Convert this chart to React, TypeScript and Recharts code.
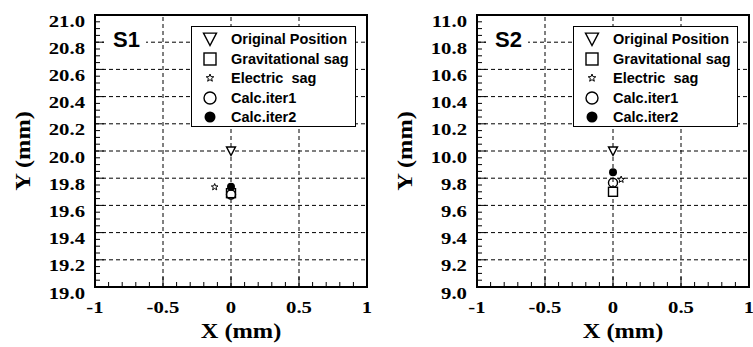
import React from "react";
import { ScatterChart, Scatter, XAxis, YAxis, ReferenceLine, ReferenceArea } from "recharts";

// legend / series order
const SERIES_NAMES = ["Original Position", "Gravitational sag", "Electric  sag", "Calc.iter1", "Calc.iter2"];

// S1 points (mm)
const S1_X = [0, 0, -0.12, 0, 0];
const S1_Y = [20.0, 19.69, 19.735, 19.68, 19.738];

// S2 points (mm)
const S2_X = [0, 0, 0.06, 0, 0];
const S2_Y = [10.0, 9.7, 9.79, 9.767, 9.843];

const X_MAJOR = [-1, -0.5, 0, 0.5, 1];
const X_LABELS = ["-1", "-0.5", "0", "0.5", "1"];

const S1_Y_MAJOR = [19.0, 19.2, 19.4, 19.6, 19.8, 20.0, 20.2, 20.4, 20.6, 20.8, 21.0];
const S1_Y_LABELS = ["19.0", "19.2", "19.4", "19.6", "19.8", "20.0", "20.2", "20.4", "20.6", "20.8", "21.0"];
const S2_Y_MAJOR = [9.0, 9.2, 9.4, 9.6, 9.8, 10.0, 10.2, 10.4, 10.6, 10.8, 11.0];
const S2_Y_LABELS = ["9.0", "9.2", "9.4", "9.6", "9.8", "10.0", "10.2", "10.4", "10.6", "10.8", "11.0"];

const SERIF = '"Liberation Serif", "Times New Roman", serif';
const SANS = '"Liberation Sans", Arial, sans-serif';

const CHART_H = 347;
const PLOT_TOP = 15;
const PLOT_W = 272;
const X_AXIS_H = 60;
const PLOT_BOTTOM = CHART_H - X_AXIS_H;

// minor ticks between the majors
const subdivide = (major: number[], n: number) => {
  const out: number[] = [];
  for (let i = 0; i < major.length - 1; i++) {
    for (let k = 0; k < n; k++) {
      out.push(+(major[i] + ((major[i + 1] - major[i]) * k) / n).toFixed(4));
    }
  }
  out.push(major[major.length - 1]);
  return out;
};

const majorIndex = (major: number[], v: number) => major.findIndex((m) => Math.abs(m - v) < 1e-6);

// ---- markers ----
const TriangleDown = ({ cx, cy, s = 9 }: any) => (
  <polygon
    points={`${cx - s / 2},${cy - s * 0.45} ${cx + s / 2},${cy - s * 0.45} ${cx},${cy + s * 0.5}`}
    fill="#fff"
    stroke="#000"
    strokeWidth={1.4}
  />
);
const SquareMark = ({ cx, cy, s = 9 }: any) => (
  <rect x={cx - s / 2} y={cy - s / 2} width={s} height={s} fill="#fff" stroke="#000" strokeWidth={1.4} />
);
const StarMark = ({ cx, cy, s = 7 }: any) => {
  const R = s / 2;
  const r = R * 0.42;
  const pts: string[] = [];
  for (let i = 0; i < 10; i++) {
    const a = -Math.PI / 2 + (i * Math.PI) / 5;
    const rad = i % 2 === 0 ? R : r;
    pts.push(`${cx + rad * Math.cos(a)},${cy + rad * Math.sin(a)}`);
  }
  return <polygon points={pts.join(" ")} fill="#fff" stroke="#000" strokeWidth={1} />;
};
const OpenCircle = ({ cx, cy, s = 9 }: any) => (
  <circle cx={cx} cy={cy} r={s / 2} fill="none" stroke="#000" strokeWidth={1.4} />
);
const FullCircle = ({ cx, cy, s = 8 }: any) => <circle cx={cx} cy={cy} r={s / 2} fill="#000" />;

const MARKERS = [TriangleDown, SquareMark, StarMark, OpenCircle, FullCircle];
const LEGEND_SIZES = [13, 12, 8, 12, 11];

const Legend = ({ left }: { left: number }) => (
  <div
    style={{
      position: "absolute",
      left,
      top: 26,
      width: 165,
      height: 101,
      boxSizing: "border-box",
      background: "#fff",
      border: "1px solid #000",
    }}
  >
    {SERIES_NAMES.map((name, i) => {
      const Mark = MARKERS[i];
      return (
        <div
          key={name}
          style={{ position: "absolute", left: 0, top: 12.3 + i * 19.5 - 9, height: 18, width: 165, display: "flex", alignItems: "center" }}
        >
          <svg width={36} height={18} style={{ flex: "none" }}>
            <Mark cx={18} cy={9} s={LEGEND_SIZES[i]} />
          </svg>
          <span
            style={{
              marginLeft: 3,
              fontFamily: SANS,
              fontWeight: "bold",
              fontSize: 14.5,
              whiteSpace: "pre",
              lineHeight: "18px",
            }}
          >
            {name}
          </span>
        </div>
      );
    })}
  </div>
);

type PanelProps = {
  tag: string;
  xs: number[];
  ys: number[];
  yMajor: number[];
  yLabels: string[];
  chartW: number;
  yAxisW: number;
};

const Panel = ({ tag, xs, ys, yMajor, yLabels, chartW, yAxisW }: PanelProps) => {
  const plotLeft = yAxisW;
  const yMin = yMajor[0];
  const yMax = yMajor[yMajor.length - 1];
  const xTicks = subdivide(X_MAJOR, 5);
  const yTicks = subdivide(yMajor, 4);

  const renderXTick = (p: any) => {
    const v = p.payload.value;
    const mi = majorIndex(X_MAJOR, v);
    const len = mi >= 0 ? 10 : 5;
    return (
      <g>
        <line x1={p.x} x2={p.x} y1={PLOT_BOTTOM} y2={PLOT_BOTTOM - len} stroke="#000" strokeWidth={1} />
        {mi >= 0 && (
          <text
            transform={`translate(${p.x},${PLOT_BOTTOM + 26}) scale(1.22,1)`}
            textAnchor="middle"
            fontFamily={SERIF}
            fontWeight="bold"
            fontSize={17}
            fill="#000"
          >
            {X_LABELS[mi]}
          </text>
        )}
      </g>
    );
  };

  const renderYTick = (p: any) => {
    const v = p.payload.value;
    const mi = majorIndex(yMajor, v);
    const len = mi >= 0 ? 9 : 5;
    return (
      <g>
        <line x1={plotLeft} x2={plotLeft + len} y1={p.y} y2={p.y} stroke="#000" strokeWidth={1} />
        {mi >= 0 && (
          <text
            transform={`translate(${plotLeft - 10},${p.y + 11.5}) scale(1.22,1)`}
            textAnchor="end"
            fontFamily={SERIF}
            fontWeight="bold"
            fontSize={17}
            fill="#000"
          >
            {yLabels[mi]}
          </text>
        )}
      </g>
    );
  };

  const xTitle = (p: any) => {
    const vb = p.viewBox;
    return (
      <text
        transform={`translate(${vb.x + vb.width / 2 + 10},${vb.y + 51}) scale(1.22,1)`}
        textAnchor="middle"
        fontFamily={SERIF}
        fontWeight="bold"
        fontSize={20}
        fill="#000"
      >
        X (mm)
      </text>
    );
  };

  const yTitle = (p: any) => {
    const vb = p.viewBox;
    return (
      <text
        transform={`translate(${vb.x + vb.width - 65},${vb.y + vb.height / 2}) rotate(-90) scale(1.22,1)`}
        textAnchor="middle"
        fontFamily={SERIF}
        fontWeight="bold"
        fontSize={20}
        fill="#000"
      >
        Y (mm)
      </text>
    );
  };

  return (
    <div style={{ position: "relative", width: chartW, height: CHART_H }}>
      <ScatterChart
        width={chartW}
        height={CHART_H}
        margin={{ top: PLOT_TOP, right: chartW - yAxisW - PLOT_W, bottom: 0, left: 0 }}
      >
        <XAxis
          type="number"
          dataKey="x"
          domain={[-1, 1]}
          ticks={xTicks}
          interval={0}
          tick={renderXTick}
          tickLine={false}
          axisLine={false}
          height={X_AXIS_H}
          allowDataOverflow
          label={{ content: xTitle }}
        />
        <YAxis
          type="number"
          dataKey="y"
          domain={[yMin, yMax]}
          ticks={yTicks}
          interval={0}
          tick={renderYTick}
          tickLine={false}
          axisLine={false}
          width={yAxisW}
          allowDataOverflow
          label={{ content: yTitle }}
        />
        {X_MAJOR.slice(1, -1).map((v) => (
          <ReferenceLine key={`gx${v}`} x={v} stroke="#000" strokeWidth={1} strokeDasharray="4 3" />
        ))}
        {yMajor.slice(1, -1).map((v) => (
          <ReferenceLine key={`gy${v}`} y={v} stroke="#000" strokeWidth={1} strokeDasharray="4 3" />
        ))}
        {SERIES_NAMES.map((name, i) => {
          const Mark = MARKERS[i];
          return (
            <Scatter
              key={name}
              name={name}
              data={[{ x: xs[i], y: ys[i] }]}
              isAnimationActive={false}
              shape={(p: any) => <Mark cx={p.cx} cy={p.cy} />}
            />
          );
        })}
        <ReferenceArea
          x1={-1}
          x2={1}
          y1={yMin}
          y2={yMax}
          fill="none"
          fillOpacity={0}
          stroke="#000"
          strokeWidth={2}
          ifOverflow="visible"
        />
      </ScatterChart>
      <div
        style={{
          position: "absolute",
          left: plotLeft + 9,
          top: 28,
          width: 42,
          height: 24,
          background: "#fff",
          fontFamily: SANS,
          fontWeight: "bold",
          fontSize: 22,
          lineHeight: "24px",
          paddingLeft: 9,
          boxSizing: "border-box",
        }}
      >
        {tag}
      </div>
      <Legend left={plotLeft + 96} />
    </div>
  );
}

export default function App() {
  return (
    <div style={{ position: "absolute", left: 0, top: 0, width: 753, height: CHART_H, display: "flex", background: "#fff" }}>
      <Panel tag="S1" xs={S1_X} ys={S1_Y} yMajor={S1_Y_MAJOR} yLabels={S1_Y_LABELS} chartW={376} yAxisW={95} />
      <Panel tag="S2" xs={S2_X} ys={S2_Y} yMajor={S2_Y_MAJOR} yLabels={S2_Y_LABELS} chartW={377} yAxisW={101} />
    </div>
  );
}
